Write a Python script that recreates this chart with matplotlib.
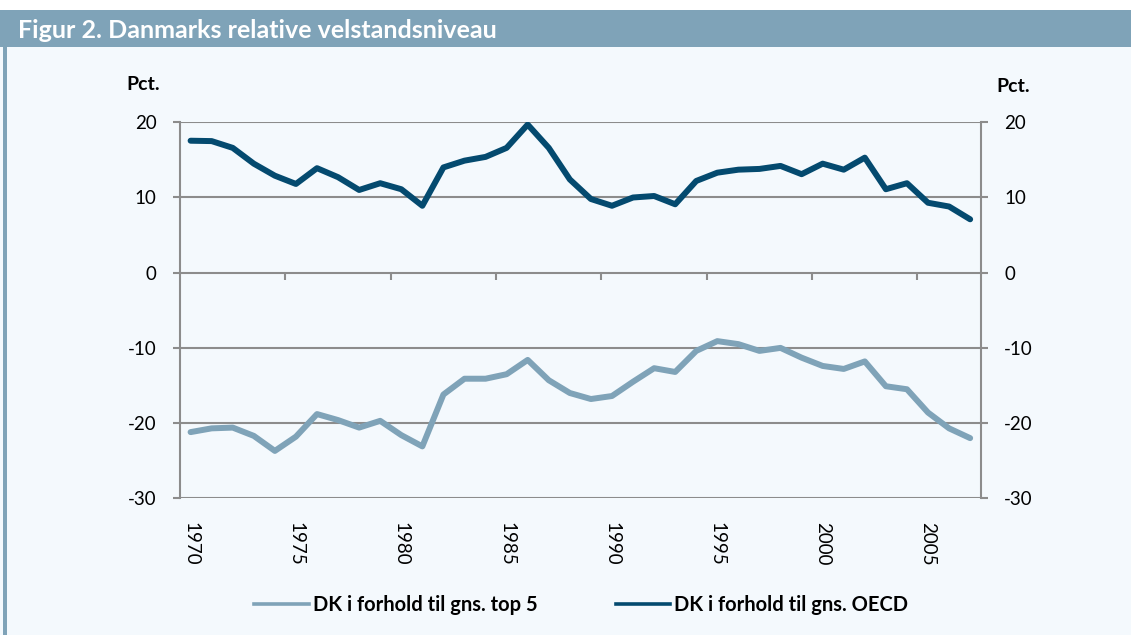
import matplotlib.pyplot as plt
from matplotlib.patches import Rectangle
from matplotlib.lines import Line2D

# data (pct.)
years = list(range(1970, 2008))
oecd = [17.55, 17.5, 16.6, 14.5, 12.9, 11.8, 13.9, 12.7, 11.0, 11.9,
        11.1, 8.9, 14.0, 14.9, 15.4, 16.6, 19.7, 16.6, 12.4, 9.8,
        8.9, 10.0, 10.2, 9.1, 12.2, 13.3, 13.7, 13.8, 14.2, 13.1,
        14.5, 13.7, 15.3, 11.1, 11.9, 9.3, 8.8, 7.1]
top5 = [-21.2, -20.7, -20.6, -21.7, -23.7, -21.8, -18.8, -19.6, -20.6, -19.7,
        -21.6, -23.1, -16.2, -14.1, -14.1, -13.5, -11.6, -14.3, -16.0, -16.8,
        -16.4, -14.5, -12.7, -13.2, -10.4, -9.1, -9.5, -10.4, -10.0, -11.3,
        -12.4, -12.8, -11.8, -15.1, -15.5, -18.6, -20.7, -22.0]
yticks = [-30, -20, -10, 0, 10, 20]
label_years = years[::5]

title = "Figur 2. Danmarks relative velstandsniveau"
name_top5 = "DK i forhold til gns. top 5"
name_oecd = "DK i forhold til gns. OECD"

dark = "#044a6f"
light = "#7fa3b8"
gridc = "#8c8c8c"
bg = "#f4f9fd"

plt.rcParams['font.family'] = ['Lato', 'DejaVu Sans']
plt.rcParams['axes.unicode_minus'] = False

fig = plt.figure(figsize=(11.31, 6.35), dpi=100)
fig.patch.set_facecolor("white")
fig.patches.append(Rectangle((0, 0), 1, 0.984, transform=fig.transFigure,
                             facecolor=bg, edgecolor="none", zorder=-3))
fig.patches.append(Rectangle((0, 0.926), 1, 0.058, transform=fig.transFigure,
                             facecolor=light, edgecolor="none", zorder=-2))
fig.patches.append(Rectangle((3 / 1131, 0), 4 / 1131, 0.984, transform=fig.transFigure,
                             facecolor=light, edgecolor="none", zorder=-2))
fig.text(18 / 1131, 1 - 30 / 635, title, color="white", fontsize=18,
         fontweight="bold", va="center", ha="left")

ax = fig.add_axes([0.1592, 0.2153, 0.8671 - 0.1592, 0.8074 - 0.2153])
ax.set_facecolor("none")
ax.set_xlim(1969.5, 2007.5)
ax.set_ylim(-30, 20)

for y in yticks:
    if y != 0:
        ax.axhline(y, color=gridc, lw=1.5, zorder=1)

ax.plot(years, top5, color=light, lw=4.3, solid_capstyle="round",
        solid_joinstyle="round", label=name_top5, zorder=3)
ax.plot(years, oecd, color=dark, lw=4.3, solid_capstyle="round",
        solid_joinstyle="round", label=name_oecd, zorder=3)

for s in ["top", "right"]:
    ax.spines[s].set_visible(False)
ax.spines["left"].set_color(gridc)
ax.spines["left"].set_linewidth(1.5)
ax.spines["bottom"].set_position(("data", 0))
ax.spines["bottom"].set_color(gridc)
ax.spines["bottom"].set_linewidth(1.5)

ax.set_yticks(yticks)
ax.tick_params(axis="y", direction="out", length=5, width=1.5, color=gridc,
               labelsize=13.5, pad=12)
ax.set_xticks([y - 0.5 for y in label_years[1:]])
ax.tick_params(axis="x", direction="out", length=5, width=1.5, color=gridc,
               labelbottom=False)

sec = ax.secondary_xaxis(0)
sec.set_xticks(label_years)
sec.set_xticklabels([str(y) for y in label_years], rotation=-90)
sec.tick_params(length=0, labelsize=13.5, pad=17)
sec.spines["bottom"].set_visible(False)

ax2 = ax.twinx()
ax2.set_ylim(ax.get_ylim())
ax2.set_yticks(yticks)
for s in ["top", "left", "bottom"]:
    ax2.spines[s].set_visible(False)
ax2.spines["right"].set_color(gridc)
ax2.spines["right"].set_linewidth(1.5)
ax2.tick_params(axis="y", direction="out", length=5, width=1.5, color=gridc,
                labelsize=13.5, pad=12)

fig.text(143 / 1131, 1 - 84 / 635, "Pct.", fontsize=14, fontweight="bold",
         ha="center", va="center")
fig.text(1013 / 1131, 1 - 86 / 635, "Pct.", fontsize=14, fontweight="bold",
         ha="center", va="center")

handles = [Line2D([], [], color=light, lw=2.6), Line2D([], [], color=dark, lw=2.6)]
fig.legend(handles, [name_top5, name_oecd], loc="center", ncol=2,
           bbox_to_anchor=(0.514, 0.047), frameon=False, handlelength=2.7,
           handletextpad=0.2, columnspacing=3.9,
           prop={"weight": "bold", "size": 14.5})

fig.savefig("out.png", dpi=100, facecolor=fig.get_facecolor())
